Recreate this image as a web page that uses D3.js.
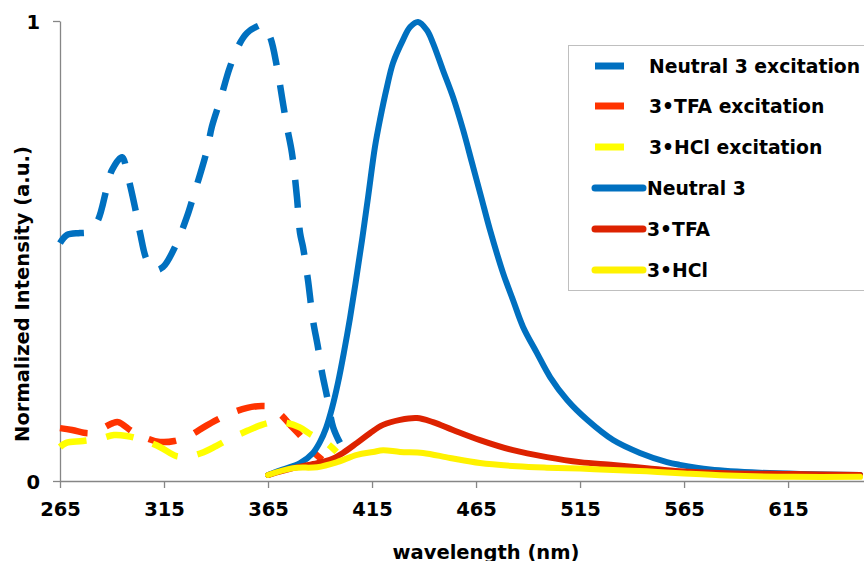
<!DOCTYPE html>
<html>
<head>
<meta charset="utf-8">
<script src="https://cdn.jsdelivr.net/npm/d3@7"></script>
<style>
  html,body{margin:0;padding:0;background:#fff;overflow:hidden}
  svg{display:block}
  text{font-family:"DejaVu Sans",Verdana,sans-serif;font-weight:bold;fill:#000}
</style>
</head>
<body>
<svg id="chart" width="864" height="561"></svg>
<script>
/* ---- data: [wavelength nm, normalized intensity] ---- */
var neutralExc=[[265,0.517],[268.4,0.535],[274.6,0.539],[278,0.541],[282.8,0.563],[287.6,0.639],[290,0.676],
  [294.8,0.704],[297.7,0.661],[301,0.596],[303.5,0.539],[306.8,0.48],[310.7,0.459],[314.5,0.465],[320.3,0.509],
  [326,0.574],[329,0.617],[335.7,0.72],[338,0.77],[342,0.828],[346.7,0.9],[351.5,0.952],[354.9,0.974],
  [359.2,0.987],[362.6,0.991],[366,0.965],[369.3,0.9],[371.7,0.835],[374.1,0.77],[376.5,0.713],[378.9,0.617],
  [380.4,0.539],[381.8,0.509],[384.2,0.437],[386.6,0.35],[389,0.291],[391,0.235],[393.4,0.183],[396.3,0.117],[399.6,0.083]];
var tfaExc=[[265,0.115],[270.8,0.111],[279.4,0.104],[285.6,0.115],[290.4,0.126],[293,0.128],[300,0.107],
  [306.7,0.093],[313,0.085],[320,0.087],[327,0.098],[336,0.122],[346,0.145],[355,0.159],[362,0.163],[366,0.161],
  [371,0.145],[376,0.12],[381,0.096],[386,0.067],[391,0.046]];
var hclExc=[[265,0.074],[268,0.083],[276,0.087],[285,0.093],[291,0.1],[297,0.098],[304,0.09],[313,0.074],
  [321,0.054],[327,0.054],[333,0.061],[340,0.076],[347,0.093],[355,0.109],[362,0.122],[368,0.128],[374,0.126],
  [380,0.117],[386,0.1],[393,0.083],[398,0.063]];
var neutralEm=[[365,0.013],[372,0.025],[380.4,0.039],[386.6,0.061],[390,0.085],[392.9,0.115],[395.8,0.159],
  [398.7,0.215],[401.5,0.28],[404.4,0.354],[407.3,0.437],[410.2,0.524],[413.1,0.617],[416.4,0.726],[418.8,0.785],
  [422.2,0.857],[425.1,0.909],[429.9,0.959],[433.3,0.987],[437.1,0.998],[441.4,0.98],[444.3,0.952],[449.1,0.893],
  [453.9,0.835],[458.8,0.763],[463.1,0.691],[467.5,0.617],[471.7,0.546],[478,0.452],[482.8,0.393],[487.6,0.335],
  [494.3,0.278],[500.6,0.226],[508.8,0.176],[518.4,0.133],[530.9,0.089],[543.8,0.061],[556.8,0.041],[563,0.035],
  [577.5,0.025],[601.5,0.018],[649.6,0.013]];
var tfaEm=[[365,0.013],[377,0.028],[388.6,0.039],[394.8,0.046],[401,0.061],[407.8,0.083],[414,0.104],[420.3,0.122],
  [428.5,0.133],[436.6,0.137],[444.3,0.128],[453.9,0.111],[466.9,0.089],[482.8,0.067],[499,0.052],[515,0.041],
  [530.9,0.035],[547,0.028],[563,0.021],[585.7,0.017],[617.4,0.015],[649.6,0.013]];
var hclEm=[[365,0.013],[377,0.028],[388.6,0.03],[398.2,0.041],[407.8,0.057],[415.5,0.063],[420.3,0.067],
  [428.5,0.063],[439.5,0.061],[452.5,0.05],[466.9,0.039],[484.7,0.032],[499,0.029],[515,0.027],[530.9,0.024],
  [547,0.021],[563,0.017],[585.7,0.012],[617.4,0.009],[649.6,0.009]];

var xTicks=[265,315,365,415,465,515,565,615];
var yTicks=[0,1];

var series=[
  {name:'Neutral 3 excitation',data:neutralExc,col:'#0070C0',dash:true},
  {name:'3\u2022TFA excitation',data:tfaExc,col:'#FF3300',dash:true},
  {name:'3\u2022HCl excitation',data:hclExc,col:'#FFFF00',dash:true},
  {name:'Neutral 3',data:neutralEm,col:'#0070C0',dash:false},
  {name:'3\u2022TFA',data:tfaEm,col:'#DD2200',dash:false},
  {name:'3\u2022HCl',data:hclEm,col:'#FFF200',dash:false}
];

var svg=d3.select('#chart');
var X0=60, X1=864, Y0=481, Y1=21;
var xS=d3.scaleLinear().domain([265,651.5]).range([X0,X1]);
var yS=d3.scaleLinear().domain([0,1]).range([Y0,Y1]);

/* axes */
var xAx=svg.append('g').attr('transform','translate(0,'+Y0+')')
  .call(d3.axisBottom(xS).tickValues(xTicks).tickSize(7).tickPadding(14).tickSizeOuter(0));
var yAx=svg.append('g').attr('transform','translate('+X0+',0)')
  .call(d3.axisLeft(yS).tickValues(yTicks).tickFormat(d3.format('d')).tickSize(7).tickPadding(13).tickSizeOuter(0));
[xAx,yAx].forEach(function(a){
  a.select('.domain').attr('stroke','#868686').attr('stroke-width',1.3);
  a.selectAll('.tick line').attr('stroke','#868686').attr('stroke-width',1.3);
  a.selectAll('.tick text').attr('font-size','19.5px').attr('font-family','DejaVu Sans,Verdana,sans-serif')
    .attr('font-weight','bold').attr('fill','#000');
});
yAx.selectAll('.tick text').attr('dy','0.36em');

/* axis titles */
svg.append('text').attr('x',486).attr('y',559).attr('text-anchor','middle')
  .attr('font-size','19.5px').text('wavelength (nm)');
svg.append('text').attr('transform','translate(29,294) rotate(-90)').attr('text-anchor','middle')
  .attr('font-size','19.5px').text('Normalized Intensity (a.u.)');

/* curves */
var line=d3.line().x(function(d){return xS(d[0])}).y(function(d){return yS(d[1])}).curve(d3.curveCatmullRom);
series.forEach(function(s){
  svg.append('path').attr('d',line(s.data)).attr('fill','none').attr('stroke',s.col)
    .attr('stroke-width',s.dash?6.5:6).attr('stroke-dasharray',s.dash?'28,20':null)
    .attr('stroke-linecap',s.dash?'butt':'round').attr('stroke-linejoin','round');
});

/* legend */
var lg=svg.append('g');
lg.append('rect').attr('x',568.5).attr('y',45.5).attr('width',310).attr('height',245)
  .attr('fill','#fff').attr('stroke','#bfbfbf').attr('stroke-width',1);
var rowY=[66,106,147,188,229,270];
series.forEach(function(s,i){
  var y=rowY[i];
  if(s.dash){
    lg.append('line').attr('x1',595).attr('x2',624).attr('y1',y).attr('y2',y)
      .attr('stroke',s.col).attr('stroke-width',7);
  }else{
    lg.append('line').attr('x1',595).attr('x2',643).attr('y1',y).attr('y2',y)
      .attr('stroke',s.col).attr('stroke-width',7).attr('stroke-linecap','round');
  }
  lg.append('text').attr('x',s.dash?649:647).attr('y',y+7).attr('font-size','18.8px').text(s.name);
});
</script>
</body>
</html>
